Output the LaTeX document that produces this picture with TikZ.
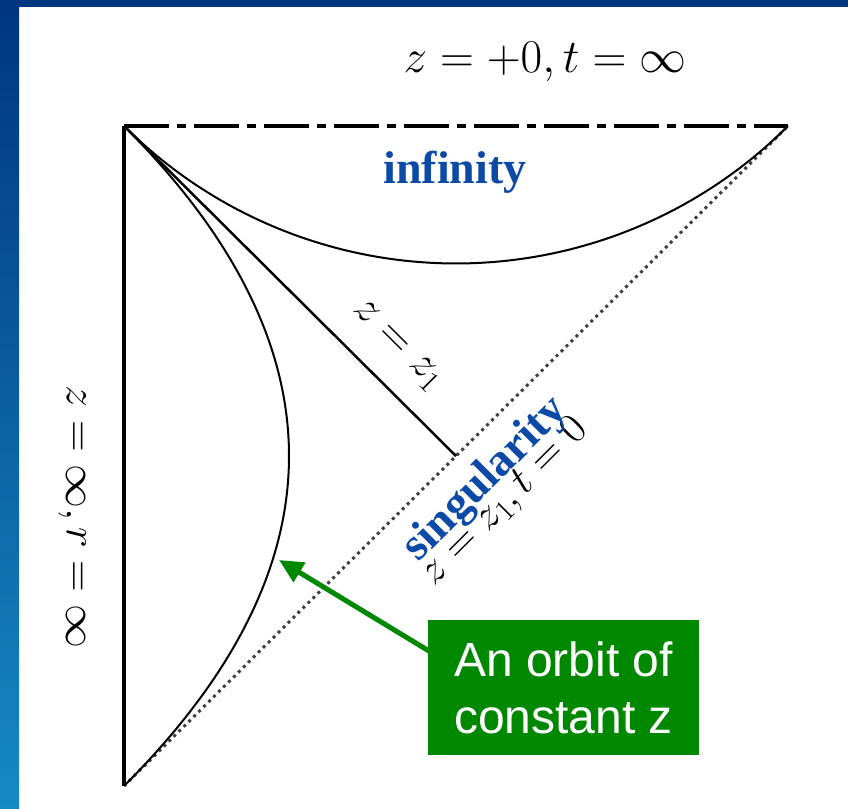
\RequirePackage{fix-cm}
\documentclass[tikz,border=0pt]{standalone}
\usepackage{fontspec}
\newfontfamily\sansf{Liberation Sans}
\newfontfamily\seriff{Liberation Serif}
\usetikzlibrary{arrows.meta}
\definecolor{topblue}{RGB}{0,53,128}
\definecolor{midblue}{RGB}{0,72,162}
\definecolor{botblue}{RGB}{22,138,195}
\definecolor{lblblue}{RGB}{12,74,166}
\definecolor{boxgreen}{RGB}{0,136,0}
\begin{document}
\begin{tikzpicture}[x=1pt,y=-1pt,
  mathlbl/.style={inner sep=0pt, font=\fontsize{44}{48}\selectfont},
  bluelbl/.style={inner sep=0pt, text=lblblue, font=\seriff\bfseries\fontsize{46}{50}\selectfont},
  edgeline/.style={line width=4.5pt, line cap=butt},
  thincurve/.style={line width=2pt},
  singline/.style={line width=3pt, black!75, dash pattern=on 3pt off 4pt},
  callout/.style={fill=boxgreen, text=white, align=center, inner sep=0pt,
    minimum width=271pt, minimum height=135pt,
    font=\sansf\fontsize{48}{57}\selectfont},
  pointer/.style={line width=5pt, boxgreen, -{Triangle[length=24pt,width=22pt]}}]
\useasboundingbox (0,0) rectangle (848,808);
% background frame
\fill[white] (0,0) rectangle (848,808);
\shade[top color=topblue, middle color=midblue, bottom color=botblue] (0,0) rectangle (19,808);
\fill[topblue] (0,0) rectangle (848,7);
% corner points
\coordinate (A) at (124,126);
\coordinate (B) at (788,126);
\coordinate (C) at (124,786);
\coordinate (D) at (456,456);
% edges
\draw[singline] (C) -- (B);
\draw[edgeline] (A) -- (C);
\draw[edgeline, dash pattern=on 45pt off 8pt on 9pt off 8pt] (A) -- (B);
% infinity arc
\draw[thincurve] plot[domain=135:45, samples=90] ({456+469.5*cos(\x)}, {-206+469.5*sin(\x)});
% orbit of constant z
\draw[thincurve] plot[domain=-1:1, samples=101] ({124+165*(1-\x*\x)}, {456+330*\x});
% z = z1 line
\draw[line width=2.5pt] (A) -- (D);
% labels
\node[mathlbl, font=\fontsize{47}{51}\selectfont] (top) at (545,62) {$z=+0,t=\infty$};
\node[mathlbl, rotate=-90] (left) at (72,517) {$z=\infty,r=\infty$};
\node[mathlbl, rotate=-45] (zz1) at (397,346) {$z=z_1$};
\node[mathlbl, font=\fontsize{43}{47}\selectfont, rotate=45] (sing0) at (505,502) {$z=z_1,t=0$};
\node[bluelbl] (inf) at (455,172) {infinity};
\node[bluelbl, rotate=45] (sing) at (486,480) {singularity};
% callout
\node[callout] (box) at (563.5,687.5) {An orbit of\\constant z};
\coordinate (arrowstart) at (429,651);
\coordinate (tip) at (279,560);
\draw[pointer] (arrowstart) -- (tip);
\end{tikzpicture}
\end{document}
